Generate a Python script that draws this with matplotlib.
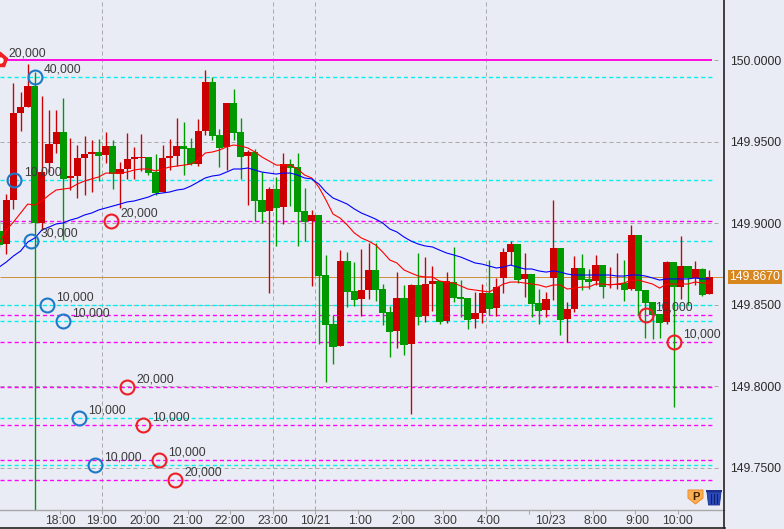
import matplotlib
matplotlib.use("Agg")
import matplotlib.pyplot as plt
from matplotlib.lines import Line2D
from matplotlib.patches import Polygon
from matplotlib.transforms import Affine2D

plt.rcParams['font.family'] = ['Liberation Sans', 'DejaVu Sans']

# candle (open, high, low, close), index = 10-minute bar number
candles = [
 (149.8952,149.9019,149.8854,149.8866),(149.8872,149.9179,149.8811,149.9142),(149.9142,149.9859,149.9087,149.9675),
 (149.9675,149.9804,149.9565,149.9712),(149.9712,149.9975,149.9712,149.9841),(149.9841,149.9926,149.7242,149.9001),
 (149.9001,149.9779,149.8958,149.9313),(149.9369,149.9694,149.9313,149.9485),(149.9485,149.9694,149.9430,149.9559),
 (149.9559,149.9767,149.8897,149.9271),(149.9277,149.9522,149.9203,149.9289),(149.9289,149.9479,149.9154,149.9399),
 (149.9399,149.9534,149.9172,149.9424),(149.9424,149.9510,149.9191,149.9436),(149.9436,149.9516,149.9258,149.9412),
 (149.9418,149.9559,149.9369,149.9473),(149.9473,149.9510,149.9209,149.9301),(149.9301,149.9375,149.9093,149.9332),
 (149.9332,149.9552,149.9271,149.9393),(149.9393,149.9467,149.9271,149.9405),(149.9399,149.9546,149.9320,149.9405),
 (149.9405,149.9405,149.9295,149.9307),(149.9313,149.9424,149.9172,149.9185),(149.9191,149.9479,149.9191,149.9399),
 (149.9399,149.9516,149.9326,149.9412),(149.9412,149.9644,149.9350,149.9473),(149.9473,149.9620,149.9295,149.9454),
 (149.9461,149.9522,149.9356,149.9362),(149.9362,149.9638,149.9350,149.9565),(149.9565,149.9939,149.9540,149.9865),
 (149.9865,149.9896,149.9510,149.9534),(149.9540,149.9577,149.9344,149.9461),(149.9467,149.9736,149.9326,149.9736),
 (149.9736,149.9822,149.9510,149.9552),(149.9559,149.9644,149.9271,149.9405),(149.9412,149.9448,149.9111,149.9436),
 (149.9436,149.9454,149.9013,149.9136),(149.9142,149.9313,149.9001,149.9068),(149.9074,149.9221,149.8572,149.9209),
 (149.9209,149.9283,149.8860,149.9093),(149.9099,149.9430,149.8995,149.9362),(149.9362,149.9393,149.9105,149.9338),
 (149.9344,149.9430,149.8860,149.9068),(149.9074,149.9215,149.8890,149.9007),(149.9013,149.9081,149.8615,149.9050),
 (149.9050,149.9050,149.8259,149.8676),(149.8682,149.8805,149.8026,149.8376),(149.8382,149.8437,149.8136,149.8241),
 (149.8247,149.8835,149.8247,149.8768),(149.8768,149.8823,149.8486,149.8578),(149.8584,149.8762,149.8492,149.8529),
 (149.8535,149.8841,149.8431,149.8590),(149.8590,149.8878,149.8535,149.8713),(149.8713,149.8878,149.8523,149.8590),
 (149.8596,149.8627,149.8376,149.8449),(149.8455,149.8492,149.8179,149.8333),(149.8339,149.8700,149.8235,149.8541),
 (149.8541,149.8621,149.8192,149.8253),(149.8259,149.8627,149.7830,149.8621),(149.8621,149.8817,149.8376,149.8425),
 (149.8431,149.8792,149.8394,149.8627),(149.8627,149.8737,149.8461,149.8645),(149.8645,149.8645,149.8382,149.8394),
 (149.8400,149.8700,149.8388,149.8645),(149.8639,149.8854,149.8517,149.8541),(149.8547,149.8651,149.8425,149.8535),
 (149.8541,149.8541,149.8351,149.8406),(149.8412,149.8578,149.8357,149.8449),(149.8449,149.8627,149.8388,149.8572),
 (149.8572,149.8774,149.8437,149.8474),(149.8480,149.8664,149.8431,149.8608),(149.8664,149.8848,149.8572,149.8823),
 (149.8823,149.8890,149.8743,149.8872),(149.8872,149.8872,149.8633,149.8651),(149.8658,149.8817,149.8547,149.8688),
 (149.8688,149.8688,149.8425,149.8504),(149.8510,149.8596,149.8382,149.8461),(149.8468,149.8578,149.8425,149.8535),
 (149.8664,149.9142,149.8529,149.8848),(149.8848,149.8848,149.8314,149.8406),(149.8412,149.8517,149.8271,149.8474),
 (149.8474,149.8799,149.8455,149.8725),(149.8725,149.8811,149.8590,149.8651),(149.8658,149.8719,149.8596,149.8639),
 (149.8645,149.8805,149.8621,149.8743),(149.8743,149.8743,149.8541,149.8608),(149.8621,149.8731,149.8602,149.8627),
 (149.8621,149.8817,149.8596,149.8627),(149.8633,149.8774,149.8523,149.8590),(149.8596,149.8989,149.8590,149.8927),
 (149.8927,149.8927,149.8437,149.8584),(149.8590,149.8590,149.8296,149.8510),(149.8517,149.8517,149.8290,149.8437),
 (149.8443,149.8443,149.8296,149.8388),(149.8394,149.8768,149.8382,149.8762),(149.8762,149.8762,149.7873,149.8608),
 (149.8608,149.8921,149.8535,149.8737),(149.8737,149.8737,149.8498,149.8664),(149.8664,149.8768,149.8621,149.8719),
 (149.8719,149.8725,149.8553,149.8559),(149.8566,149.8713,149.8566,149.8670),
]

ma_fast = [
 149.8878,149.8958,149.9007,149.9062,149.9117,149.9111,149.9136,149.9172,149.9203,149.9209,
 149.9215,149.9240,149.9258,149.9271,149.9283,149.9307,149.9307,149.9307,149.9313,149.9326,
 149.9332,149.9332,149.9320,149.9332,149.9344,149.9350,149.9356,149.9362,149.9387,149.9430,
 149.9436,149.9448,149.9467,149.9479,149.9473,149.9461,149.9436,149.9405,149.9381,149.9356,
 149.9356,149.9356,149.9332,149.9295,149.9277,149.9221,149.9142,149.9056,149.9031,149.8989,
 149.8940,149.8909,149.8890,149.8866,149.8823,149.8774,149.8756,149.8713,149.8694,149.8676,
 149.8670,149.8670,149.8645,149.8639,149.8633,149.8615,149.8596,149.8590,149.8584,149.8578,
 149.8602,149.8627,149.8639,149.8639,149.8633,149.8627,149.8621,149.8608,149.8621,149.8621,
 149.8596,149.8602,149.8608,149.8608,149.8627,149.8627,149.8621,149.8627,149.8633,149.8651,
 149.8651,149.8639,149.8627,149.8602,149.8627,149.8627,149.8627,149.8627,149.8639,149.8633,
 149.8633,
]

ma_slow = [
 149.8731,149.8762,149.8799,149.8829,149.8884,149.8909,149.8958,149.8976,149.8995,149.9001,
 149.9019,149.9031,149.9050,149.9062,149.9081,149.9093,149.9105,149.9117,149.9130,149.9136,
 149.9148,149.9160,149.9179,149.9185,149.9191,149.9203,149.9209,149.9228,149.9252,149.9277,
 149.9289,149.9295,149.9313,149.9332,149.9332,149.9338,149.9326,149.9313,149.9307,149.9301,
 149.9307,149.9307,149.9295,149.9277,149.9271,149.9240,149.9191,149.9154,149.9136,149.9117,
 149.9087,149.9062,149.9044,149.9025,149.9001,149.8964,149.8946,149.8915,149.8890,149.8872,
 149.8860,149.8854,149.8835,149.8817,149.8805,149.8792,149.8774,149.8756,149.8749,149.8737,
 149.8725,149.8731,149.8743,149.8731,149.8719,149.8719,149.8707,149.8700,149.8707,149.8700,
 149.8688,149.8682,149.8682,149.8682,149.8682,149.8682,149.8682,149.8676,149.8676,149.8682,
 149.8682,149.8676,149.8664,149.8651,149.8658,149.8658,149.8658,149.8658,149.8664,149.8658,
 149.8658,
]

# horizontal order levels
cyan_levels = [149.9898, 149.9267, 149.8892, 149.8498, 149.8400, 149.7805, 149.7517]
magenta_levels = [149.9015, 149.8437, 149.8271, 149.7995, 149.7762, 149.7548, 149.7425]
top_level = 150.0
last_price = 149.8670

# order circles: bar position, price, amount text
blue_x = [5.03, 2.14, 4.46, 6.72, 8.97, 11.23, 13.48]
blue_y = [149.9898, 149.9267, 149.8892, 149.8498, 149.8400, 149.7805, 149.7517]
blue_text = ["40,000", "10,000", "30,000", "10,000", "10,000", "10,000", "10,000"]
red_x = [15.73, 17.99, 20.24, 22.49, 24.75, 91.08, 95.03]
red_y = [149.9015, 149.7995, 149.7762, 149.7548, 149.7425, 149.8437, 149.8271]
red_text = ["20,000", "20,000", "10,000", "10,000", "20,000", "10,000", "10,000"]
top_text = "20,000"

y_ticks = [150.0, 149.95, 149.90, 149.85, 149.80, 149.75]
x_ticks = [8.55, 14.46, 20.52, 26.51, 32.49, 38.55, 44.46, 50.52, 56.58, 62.49, 68.55, 74.61,
           77.56, 83.62, 89.54, 95.59]
x_labels = ["18:00", "19:00", "20:00", "21:00", "22:00", "23:00", "10/21", "1:00", "2:00", "3:00",
            "4:00", "", "10/23", "8:00", "9:00", "10:00"]
grid_x = [14.46, 38.55, 44.46, 68.55]

BG = '#e9ecf4'
GRAY = '#a8a8a8'
RED = '#cc0000'
GREEN = '#009900'
TXT = '#3a3a3a'
FS = 8.8
XMIN, XMAX = 0.0986, 102.07
YMIN, YMAX = 149.72415, 150.0368

fig = plt.figure(figsize=(7.84, 5.29), dpi=100, facecolor=BG)
ax = fig.add_axes([0, 1 - 510 / 529, 724 / 784, 510 / 529], facecolor=BG)
ax.set_xlim(XMIN, XMAX)
ax.set_ylim(YMIN, YMAX)

dash = (0, (4, 3))
dash_bold = (0, (3, 2.2))
LW = 0.72
LWB = 0.98
END = 100.38

def hl(y, x1, col, z, ls='-', lw=LW):
    ax.plot([XMIN, x1], [y, y], color=col, lw=lw, ls=ls, zorder=z, snap=True,
            solid_capstyle='butt', dash_capstyle='butt')

for v in y_ticks:
    hl(v, 101.7, GRAY, 1, dash)
for v in grid_x:
    ax.plot([v, v], [YMIN, YMAX], color=GRAY, lw=LW, ls=dash, zorder=1, snap=True, dash_capstyle='butt')
for v in cyan_levels:
    hl(v, END, '#00f0f0', 1.2, dash_bold, LWB)
for v in magenta_levels:
    hl(v, END, '#ff00ff', 1.3, dash_bold, LWB)
hl(top_level, END, '#ff10e0', 1.4, '-', 1.44)
hl(last_price, XMAX, '#d0903c', 1.5)

for i, (o, h, l, c) in enumerate(candles):
    col = RED if c >= o else GREEN
    ax.plot([i, i], [l, h], color=col, lw=LWB, zorder=2, snap=True, solid_capstyle='butt')
    ax.bar(i, abs(c - o), bottom=min(o, c), width=1.0, color=col, linewidth=0,
           antialiased=False, zorder=2.1)

xs = list(range(len(ma_fast)))
ax.plot(xs, ma_fast, color='#ff0000', lw=0.8, zorder=3)
ax.plot(xs, ma_slow, color='#0000ff', lw=0.8, zorder=3)

def marks(x, y, texts, col):
    ax.plot(x, y, ls='none', marker='o', ms=10, mfc='none', mec=col, mew=1.5, zorder=4)
    for a, b, t in zip(x, y, texts):
        ax.annotate(t, (a, b), xytext=(6.6, 5.2), textcoords='offset points', fontsize=FS,
                    color=TXT, va='center', ha='left', zorder=5)

marks(blue_x, blue_y, blue_text, '#1c78c8')
marks(red_x, red_y, red_text, '#f01e24')

# top-left position icon
ax.plot([XMIN], [top_level], ls='none', marker='p', ms=11, mfc='#f02020', mec='#f02020', zorder=4)
ax.plot([XMIN], [top_level], ls='none', marker='o', ms=3.5, mfc='white', mec='white', zorder=4.1)
ax.annotate(top_text, (XMIN, top_level), xytext=(5.8, 5.0), textcoords='offset points',
            fontsize=FS, color=TXT, va='center', ha='left', zorder=5)

# axes
for s in ('top', 'left', 'right'):
    ax.spines[s].set_visible(False)
ax.spines['bottom'].set_color(GRAY)
ax.spines['bottom'].set_linewidth(1.0)
ax.yaxis.tick_right()
ax.set_yticks(y_ticks)
ax.set_yticklabels([f"{v:.4f}" for v in y_ticks], fontsize=FS, color='#2a2a2a')
ax.tick_params(axis='y', length=0, pad=4.6)
ax.set_xticks(x_ticks)
ax.set_xticklabels([])
ax.tick_params(axis='x', length=3, width=0.8, color=GRAY)
for xv, lab in zip(x_ticks, x_labels):
    dx = 1.8 if len(lab) == 4 else 0
    ax.annotate(lab, (xv, 0), xycoords=('data', 'axes fraction'), xytext=(dx, -8.0),
                textcoords='offset points', fontsize=FS, color=TXT, ha='center', va='center',
                annotation_clip=False)

# last-price box
ax.annotate(f"{last_price:.4f}", (1, last_price), xycoords=('axes fraction', 'data'),
            xytext=(4.0, 0), textcoords='offset points', fontsize=FS, color='white',
            ha='left', va='center', annotation_clip=False, zorder=6,
            bbox=dict(boxstyle='square,pad=0.12', fc='#d8861e', ec='none'))

# frame and icons, in pixel coordinates from the top-left corner
T = Affine2D().scale(1 / 784, -1 / 529).translate(0, 1) + fig.transFigure
fig.add_artist(Line2D([724.5, 724.5], [0, 528], color='#222222', lw=1.2, transform=T))
fig.add_artist(Line2D([0, 725], [527.5, 527.5], color='#222222', lw=1.2, transform=T))
fig.add_artist(Polygon([(688, 490), (703, 490), (703, 498), (695.5, 504), (688, 498)], closed=True,
                       fc='#f8b050', ec='#f08830', lw=0.7, transform=T))
fig.text(695.5 / 784, 1 - 496.5 / 529, "P", fontsize=8, fontweight='bold', color='#402000',
         ha='center', va='center')
fig.add_artist(Polygon([(707, 492), (721, 492), (719.5, 505), (708.5, 505)], closed=True,
                       fc='#2a48b8', ec='#1c2f8c', lw=0.6, transform=T))
fig.add_artist(Polygon([(706, 490), (722, 490), (722, 492), (706, 492)], closed=True,
                       fc='#1c2f8c', ec='none', transform=T))
for xp in (711, 714, 717):
    fig.add_artist(Line2D([xp, xp], [494, 503], color='#10206a', lw=0.7, transform=T))

fig.savefig("out.png", dpi=100, facecolor=BG)
